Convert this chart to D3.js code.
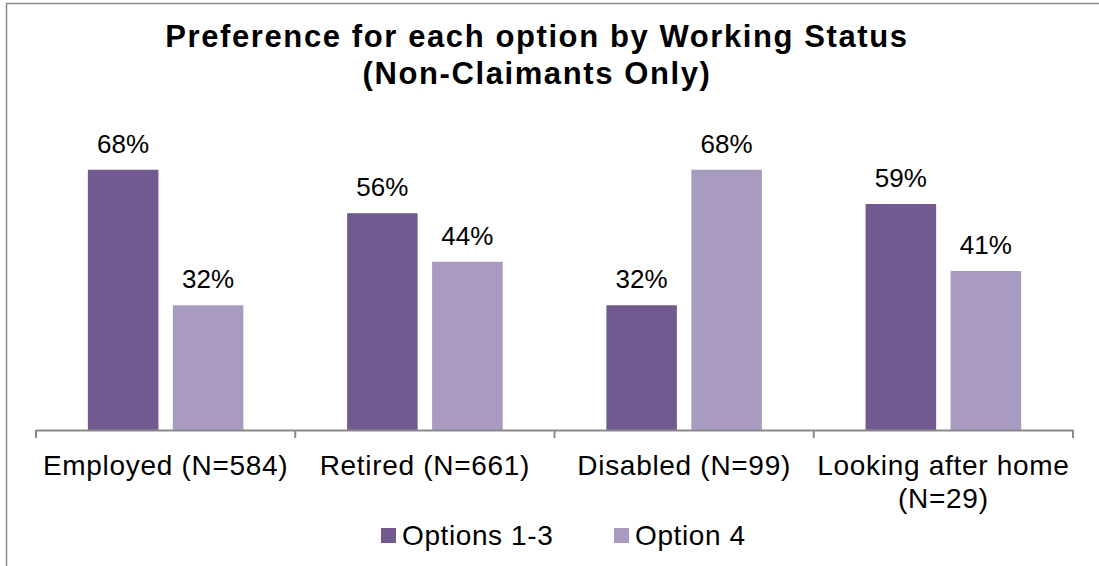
<!DOCTYPE html>
<html>
<head>
<meta charset="utf-8">
<script src="https://cdn.jsdelivr.net/npm/d3@7/dist/d3.min.js"></script>
<style>
  html, body { margin: 0; padding: 0; background: #fff; }
  svg { display: block; font-family: "Liberation Sans", Arial, sans-serif; }
</style>
</head>
<body>
<svg id="chart"></svg>
<script>
// Preference by working status - grouped bars

const titleLines = ["Preference for each option by Working Status", "(Non-Claimants Only)"];
const categories = ["Employed (N=584)", "Retired (N=661)", "Disabled (N=99)", "Looking after home (N=29)"];
const seriesNames = ["Options 1-3", "Option 4"];
const options13 = [0.676, 0.563, 0.324, 0.587];
const option4 = [0.324, 0.437, 0.676, 0.413];
const seriesColors = ["#725990", "#A99BC0"];

const width = 1099;
const height = 566;

const svg = d3.select("#chart").attr("width", width).attr("height", height);

// outer border (only top/left fall inside the picture)
svg.append("rect")
  .attr("x", 6.5).attr("y", 3.5)
  .attr("width", width + 20).attr("height", height + 20)
  .attr("fill", "none")
  .attr("stroke", "#8c8c8c")
  .attr("stroke-width", 1.5);

const baseline = 430;
const x0 = d3.scaleBand().domain(categories).range([36, 1073]);
const x1 = d3.scaleBand()
  .domain(seriesNames)
  .range([x0.bandwidth() * 0.2, x0.bandwidth() * 0.8])
  .paddingInner(0.17);
const y = d3.scaleLinear().domain([0, 0.8]).range([baseline, baseline - 0.8 * 385]);
const color = d3.scaleOrdinal().domain(seriesNames).range(seriesColors);

const rows = categories.map((c, i) => ({
  category: c,
  values: [
    { series: seriesNames[0], value: options13[i] },
    { series: seriesNames[1], value: option4[i] },
  ],
}));

// title
const title = svg.append("text")
  .attr("text-anchor", "middle")
  .attr("font-weight", "bold")
  .attr("font-size", 31)
  .attr("letter-spacing", 1.6)
  .attr("fill", "#000");
title.selectAll("tspan")
  .data(titleLines)
  .enter()
  .append("tspan")
  .attr("x", 537)
  .attr("y", (d, i) => 47 + i * 36.5)
  .text((d) => d);

// bars
const groups = svg.append("g")
  .selectAll("g")
  .data(rows)
  .enter()
  .append("g")
  .attr("transform", (d) => `translate(${x0(d.category)},0)`);

groups.selectAll("rect")
  .data((d) => d.values)
  .enter()
  .append("rect")
  .attr("x", (d) => x1(d.series))
  .attr("y", (d) => y(d.value))
  .attr("width", x1.bandwidth())
  .attr("height", (d) => baseline - y(d.value))
  .attr("fill", (d) => color(d.series));

groups.selectAll("text")
  .data((d) => d.values)
  .enter()
  .append("text")
  .attr("x", (d) => x1(d.series) + x1.bandwidth() / 2)
  .attr("y", (d) => y(d.value) - 17)
  .attr("text-anchor", "middle")
  .attr("font-size", 26)
  .attr("fill", "#000")
  .text((d) => d3.format(".0%")(d.value));

// x axis: line plus ticks at band edges
const axisG = svg.append("g").attr("transform", `translate(0,${baseline})`);
const axis = d3.axisBottom(x0).tickSize(0).tickPadding(0).tickSizeOuter(0);
axisG.call(axis);
axisG.select(".domain").attr("stroke", "#898989").attr("stroke-width", 2);
axisG.selectAll(".tick text").remove();

const edges = categories.map((c) => x0(c)).concat([x0.range()[1]]);
axisG.selectAll(".edge")
  .data(edges)
  .enter()
  .append("line")
  .attr("class", "edge")
  .attr("x1", (d) => d).attr("x2", (d) => d)
  .attr("y1", 0).attr("y2", 8)
  .attr("stroke", "#898989")
  .attr("stroke-width", 2);

// category labels, wrapped to the band width
const catLabels = axisG.selectAll(".cat")
  .data(categories)
  .enter()
  .append("text")
  .attr("class", "cat")
  .attr("text-anchor", "middle")
  .attr("font-size", 28)
  .attr("letter-spacing", 0.7)
  .attr("fill", "#000")
  .attr("transform", (d) => `translate(${x0(d) + x0.bandwidth() / 2},45)`);

catLabels.each(function (d) {
  const t = d3.select(this);
  const words = d.split(" ");
  let line = [];
  let lineNo = 0;
  let tspan = t.append("tspan").attr("x", 0).attr("y", 0);
  words.forEach((w) => {
    line.push(w);
    tspan.text(line.join(" "));
    if (tspan.node().getComputedTextLength() > x0.bandwidth() - 6 && line.length > 1) {
      line.pop();
      tspan.text(line.join(" "));
      line = [w];
      lineNo += 1;
      tspan = t.append("tspan").attr("x", 0).attr("y", lineNo * 33).text(w);
    }
  });
});

// legend
const legend = svg.append("g").attr("transform", "translate(381,528)");
const legendItems = legend.selectAll("g")
  .data(seriesNames)
  .enter()
  .append("g")
  .attr("transform", (d, i) => `translate(${i * 233},0)`);
legendItems.append("rect")
  .attr("width", 15).attr("height", 15)
  .attr("fill", (d) => color(d));
legendItems.append("text")
  .attr("x", 21)
  .attr("y", 17)
  .attr("font-size", 28)
  .attr("letter-spacing", 0.6)
  .attr("fill", "#000")
  .text((d) => d);
</script>
</body>
</html>
